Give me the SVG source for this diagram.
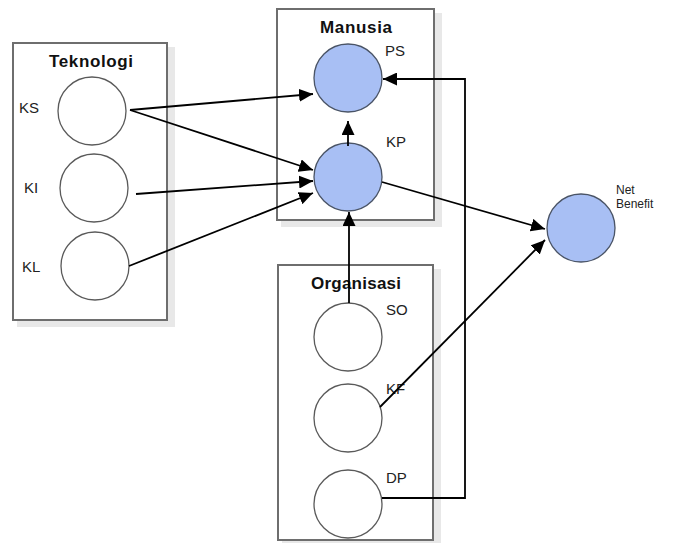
<svg xmlns="http://www.w3.org/2000/svg" width="673" height="543" viewBox="0 0 673 543">
<style>
.box{fill:#fff;stroke:#6e6e6e;stroke-width:2}
.shadow{fill:#e8e8e8}
.c{fill:#fff;stroke:#5a5a5a;stroke-width:1.3}
.cb{fill:#a8bff4;stroke:#4a5466;stroke-width:1.3}
.t{font-family:"Liberation Sans",Arial,sans-serif;font-size:17px;font-weight:bold;fill:#111;text-anchor:middle}
.l{font-family:"Liberation Sans",Arial,sans-serif;font-size:15px;fill:#222}
.s{font-family:"Liberation Sans",Arial,sans-serif;font-size:12px;fill:#222}
.ln{fill:none;stroke:#000;stroke-width:1.8}
</style>
<defs>
<marker id="ah" markerUnits="userSpaceOnUse" markerWidth="15" markerHeight="13" refX="14" refY="6.5" orient="auto">
<path d="M0,0 L14,6.5 L0,13 Z" fill="#000"/>
</marker>
</defs>
<rect width="673" height="543" fill="#fff"/>
<g id="teknologi">
<rect class="shadow" x="17" y="47" width="158" height="280"/>
<rect class="box" x="13" y="43" width="154" height="277"/>
<text class="t" x="91" y="67" textLength="84">Teknologi</text>
</g>
<g id="manusia">
<rect class="shadow" x="281" y="13" width="161" height="214"/>
<rect class="box" x="277" y="9" width="157" height="211"/>
<text class="t" x="356" y="33" textLength="72">Manusia</text>
</g>
<g id="organisasi">
<rect class="shadow" x="282" y="269" width="159" height="276"/>
<rect class="box" x="278" y="265" width="155" height="275"/>
<text class="t" x="356" y="289" textLength="90">Organisasi</text>
</g>
<g id="KS"><circle class="c" cx="92" cy="111" r="34"/><text class="l" x="19" y="113">KS</text></g>
<g id="KI"><circle class="c" cx="94" cy="188" r="34"/><text class="l" x="24" y="193">KI</text></g>
<g id="KL"><circle class="c" cx="95" cy="266" r="34"/><text class="l" x="22" y="272">KL</text></g>
<g id="PS"><circle class="cb" cx="348" cy="78" r="34"/><text class="l" x="385" y="56">PS</text></g>
<g id="KP"><circle class="cb" cx="348" cy="177" r="34"/><text class="l" x="386" y="147">KP</text></g>
<g id="SO"><circle class="c" cx="348" cy="337" r="34"/><text class="l" x="386" y="315">SO</text></g>
<g id="KF"><circle class="c" cx="348" cy="418" r="34"/><text class="l" x="386" y="394">KF</text></g>
<g id="DP"><circle class="c" cx="348" cy="504" r="34"/><text class="l" x="386" y="483">DP</text></g>
<g id="NetBenefit"><circle class="cb" cx="581" cy="228" r="34"/><text class="s" x="616" y="194">Net</text><text class="s" x="616" y="208">Benefit</text></g>
<g id="connectors">
<line class="ln" x1="130" y1="110" x2="313" y2="94" marker-end="url(#ah)"/>
<line class="ln" x1="130" y1="110" x2="313" y2="170" marker-end="url(#ah)"/>
<line class="ln" x1="136" y1="194" x2="313" y2="181" marker-end="url(#ah)"/>
<line class="ln" x1="129" y1="266" x2="313" y2="193" marker-end="url(#ah)"/>
<line class="ln" x1="348" y1="146" x2="348" y2="121" marker-end="url(#ah)"/>
<line class="ln" x1="349" y1="303" x2="349" y2="212" marker-end="url(#ah)"/>
<line class="ln" x1="382" y1="182" x2="545" y2="229" marker-end="url(#ah)"/>
<line class="ln" x1="380" y1="407" x2="545" y2="240" marker-end="url(#ah)"/>
<polyline class="ln" points="382,498 465,498 465,79 383,79" marker-end="url(#ah)"/>
</g>
</svg>
